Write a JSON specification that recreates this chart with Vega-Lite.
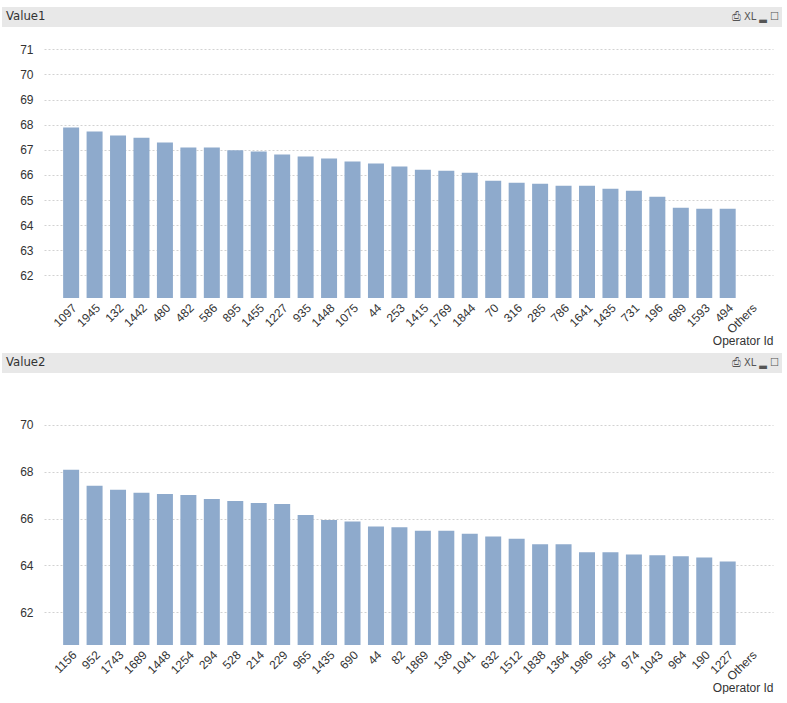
{
  "$schema": "https://vega.github.io/schema/vega-lite/v6.json",
  "background": "#ffffff",
  "padding": {"left": 2, "top": 7, "right": 0, "bottom": 0},
  "datasets": {
    "v1": [
      {"operator": "1097", "value": 67.89}, {"operator": "1945", "value": 67.73}, {"operator": "132", "value": 67.57},
      {"operator": "1442", "value": 67.48}, {"operator": "480", "value": 67.29}, {"operator": "482", "value": 67.09},
      {"operator": "586", "value": 67.09}, {"operator": "895", "value": 66.98}, {"operator": "1455", "value": 66.93},
      {"operator": "1227", "value": 66.81}, {"operator": "935", "value": 66.73}, {"operator": "1448", "value": 66.65},
      {"operator": "1075", "value": 66.53}, {"operator": "44", "value": 66.45}, {"operator": "253", "value": 66.33},
      {"operator": "1415", "value": 66.21}, {"operator": "1769", "value": 66.17}, {"operator": "1844", "value": 66.09},
      {"operator": "70", "value": 65.77}, {"operator": "316", "value": 65.69}, {"operator": "285", "value": 65.65},
      {"operator": "786", "value": 65.57}, {"operator": "1641", "value": 65.57}, {"operator": "1435", "value": 65.45},
      {"operator": "731", "value": 65.37}, {"operator": "196", "value": 65.13}, {"operator": "689", "value": 64.69},
      {"operator": "1593", "value": 64.65}, {"operator": "494", "value": 64.65}, {"operator": "Others", "value": null}
    ],
    "v2": [
      {"operator": "1156", "value": 68.09}, {"operator": "952", "value": 67.40}, {"operator": "1743", "value": 67.23},
      {"operator": "1689", "value": 67.10}, {"operator": "1448", "value": 67.05}, {"operator": "1254", "value": 67.01},
      {"operator": "294", "value": 66.84}, {"operator": "528", "value": 66.75}, {"operator": "214", "value": 66.67},
      {"operator": "229", "value": 66.62}, {"operator": "965", "value": 66.15}, {"operator": "1435", "value": 65.94},
      {"operator": "690", "value": 65.88}, {"operator": "44", "value": 65.66}, {"operator": "82", "value": 65.63},
      {"operator": "1869", "value": 65.48}, {"operator": "138", "value": 65.48}, {"operator": "1041", "value": 65.35},
      {"operator": "632", "value": 65.23}, {"operator": "1512", "value": 65.14}, {"operator": "1838", "value": 64.90},
      {"operator": "1364", "value": 64.90}, {"operator": "1986", "value": 64.56}, {"operator": "554", "value": 64.56},
      {"operator": "974", "value": 64.47}, {"operator": "1043", "value": 64.43}, {"operator": "964", "value": 64.39},
      {"operator": "190", "value": 64.34}, {"operator": "1227", "value": 64.17}, {"operator": "Others", "value": null}
    ]
  },
  "config": {
    "font": "Liberation Sans",
    "view": {"stroke": null},
    "axis": {
      "labelFont": "Liberation Sans",
      "labelFontSize": 12,
      "labelColor": "#333333",
      "titleFont": "Liberation Sans",
      "titleFontSize": 12,
      "titleFontWeight": "normal",
      "titleColor": "#333333",
      "ticks": false,
      "domain": false
    },
    "title": {
      "font": "Liberation Sans Narrow, DejaVu Sans Condensed, sans-serif",
      "fontSize": 13,
      "fontWeight": "normal",
      "color": "#333333",
      "anchor": "start"
    }
  },
  "vconcat": [
    {
      "title": {"text": "Value1", "offset": -16, "dx": 4},
      "vconcat": [
        {
          "width": 780,
          "height": 20,
          "view": {"fill": "#e8e8e8", "stroke": null},
          "title": {"text": "⎙ XL ▂ ☐", "anchor": "end", "offset": -15, "dx": -3, "font": "DejaVu Sans Condensed", "fontSize": 11, "color": "#555555"},
          "data": {"values": []},
          "mark": "rect",
          "encoding": {}
        },
        {
          "width": 771,
          "height": 260,
          "data": {"name": "v1"},
          "mark": {"type": "bar", "color": "#8eaacc", "clip": true, "invalid": "show"},
          "encoding": {
            "x": {
              "field": "operator", "type": "nominal", "sort": null,
              "scale": {"range": [42, 771], "paddingInner": 0.318, "paddingOuter": 0.7036, "align": 0.58},
              "axis": {"labelAngle": -45, "labelPadding": 4, "title": "Operator Id", "titleAnchor": "end", "titlePadding": 0, "grid": false}
            },
            "y": {
              "field": "value", "type": "quantitative",
              "scale": {"domain": [61.1, 71.45], "nice": false, "zero": false},
              "axis": {"values": [62, 63, 64, 65, 66, 67, 68, 69, 70, 71], "title": null, "grid": true, "gridDash": [2, 2], "gridColor": "#d2d2d2", "labelPadding": 11, "offset": -42}
            }
          }
        }
      ],
      "spacing": 11
    },
    {
      "title": {"text": "Value2", "offset": -16, "dx": 4},
      "vconcat": [
        {
          "width": 780,
          "height": 20,
          "view": {"fill": "#e8e8e8", "stroke": null},
          "title": {"text": "⎙ XL ▂ ☐", "anchor": "end", "offset": -15, "dx": -3, "font": "DejaVu Sans Condensed", "fontSize": 11, "color": "#555555"},
          "data": {"values": []},
          "mark": "rect",
          "encoding": {}
        },
        {
          "width": 771,
          "height": 261,
          "data": {"name": "v2"},
          "mark": {"type": "bar", "color": "#8eaacc", "clip": true, "invalid": "show"},
          "encoding": {
            "x": {
              "field": "operator", "type": "nominal", "sort": null,
              "scale": {"range": [42, 771], "paddingInner": 0.318, "paddingOuter": 0.7036, "align": 0.58},
              "axis": {"labelAngle": -45, "labelPadding": 4, "title": "Operator Id", "titleAnchor": "end", "titlePadding": 0, "grid": false}
            },
            "y": {
              "field": "value", "type": "quantitative",
              "scale": {"domain": [60.6, 71.75], "nice": false, "zero": false},
              "axis": {"values": [62, 64, 66, 68, 70], "title": null, "grid": true, "gridDash": [2, 2], "gridColor": "#d2d2d2", "labelPadding": 11, "offset": -42}
            }
          }
        }
      ],
      "spacing": 11
    }
  ],
  "spacing": 6
}
